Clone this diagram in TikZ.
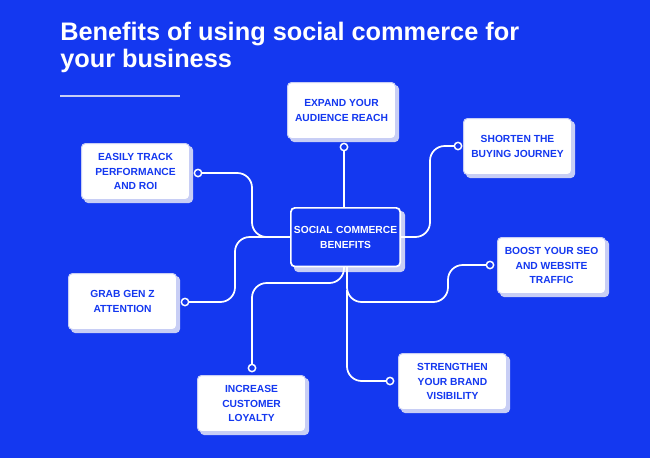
\documentclass[tikz,border=0pt]{standalone}
\usepackage{fontspec}
\setmainfont{Liberation Sans}
\definecolor{bg}{HTML}{1438F0}
\definecolor{sh}{HTML}{C8CEF5}
\begin{document}
\begin{tikzpicture}[x=0.75pt,y=-0.75pt,
  box/.style={draw=sh,line width=0.8pt,fill=white,rounded corners=3pt,minimum width=81pt,minimum height=42pt,align=center,text=bg,font=\bfseries\fontsize{7.7}{11}\selectfont,anchor=north west},
  link/.style={draw=white,line width=1.3pt,rounded corners=11pt},
  dot/.style={circle,draw=white,fill=bg,line width=1.1pt,inner sep=0pt,minimum size=5.5pt}]
\fill[bg] (0,0) rectangle (650,458);
\useasboundingbox (0,0) rectangle (650,458);
\node[anchor=north west,text=white,font=\bfseries\fontsize{19}{20.5}\selectfont,align=left,inner sep=0pt] (title) at (60,22) {Benefits of using social commerce for\\your business};
\draw[sh,line width=2pt] (60,96) -- (180,96);
% shadows
\foreach \x/\y in {287/82,463/118,81/143,68/273,197/375,497/237,398/353}{
  \fill[sh,rounded corners=3pt] (\x+3,\y+3) rectangle ++(109,57);}
\fill[sh,rounded corners=3pt] (294,211) rectangle (405,272);
\node[box] (expand) at (287,82) {EXPAND YOUR\\AUDIENCE REACH};
\node[box] (shorten) at (463,118) {SHORTEN THE\\BUYING JOURNEY};
\node[box] (track) at (81,143) {EASILY TRACK\\PERFORMANCE\\AND ROI};
\node[box] (genz) at (68,273) {GRAB GEN Z\\ATTENTION};
\node[box] (loyal) at (197,375) {INCREASE\\CUSTOMER\\LOYALTY};
\node[box] (seo) at (497,237) {BOOST YOUR SEO\\AND WEBSITE\\TRAFFIC};
\node[box] (brand) at (398,353) {STRENGTHEN\\YOUR BRAND\\VISIBILITY};
% links
\coordinate (c1) at (344,147); \coordinate (c2) at (458,146); \coordinate (c3) at (198,173);
\coordinate (c4) at (185,302); \coordinate (c5) at (252,368); \coordinate (c6) at (490,265); \coordinate (c7) at (390,381);
\draw[link] (344,207) -- (c1);
\draw[link] (400,237) -- (430,237) -- (430,146) -- (c2);
\draw[link] (c3) -- (252,173) -- (252,237) -- (290,237);
\draw[link] (290,237) -- (235,237) -- (235,302) -- (c4);
\draw[link] (344,267) -- (344,283) -- (252,283) -- (c5);
\draw[link] (347,267) -- (347,302) -- (448,302) -- (448,265) -- (c6);
\draw[link] (347,290) -- (347,381) -- (c7);
\node[draw=white,fill=bg,line width=1.3pt,rounded corners=3pt,inner sep=1pt,text width=80pt,minimum height=44pt,align=center,text=white,font=\bfseries\fontsize{7.7}{11}\selectfont,anchor=north west] (center) at (290,207) {SOCIAL COMMERCE\\BENEFITS};
\foreach \c in {c1,c2,c3,c4,c5,c6,c7}{\node[dot] at (\c) {};}
\end{tikzpicture}
\end{document}
